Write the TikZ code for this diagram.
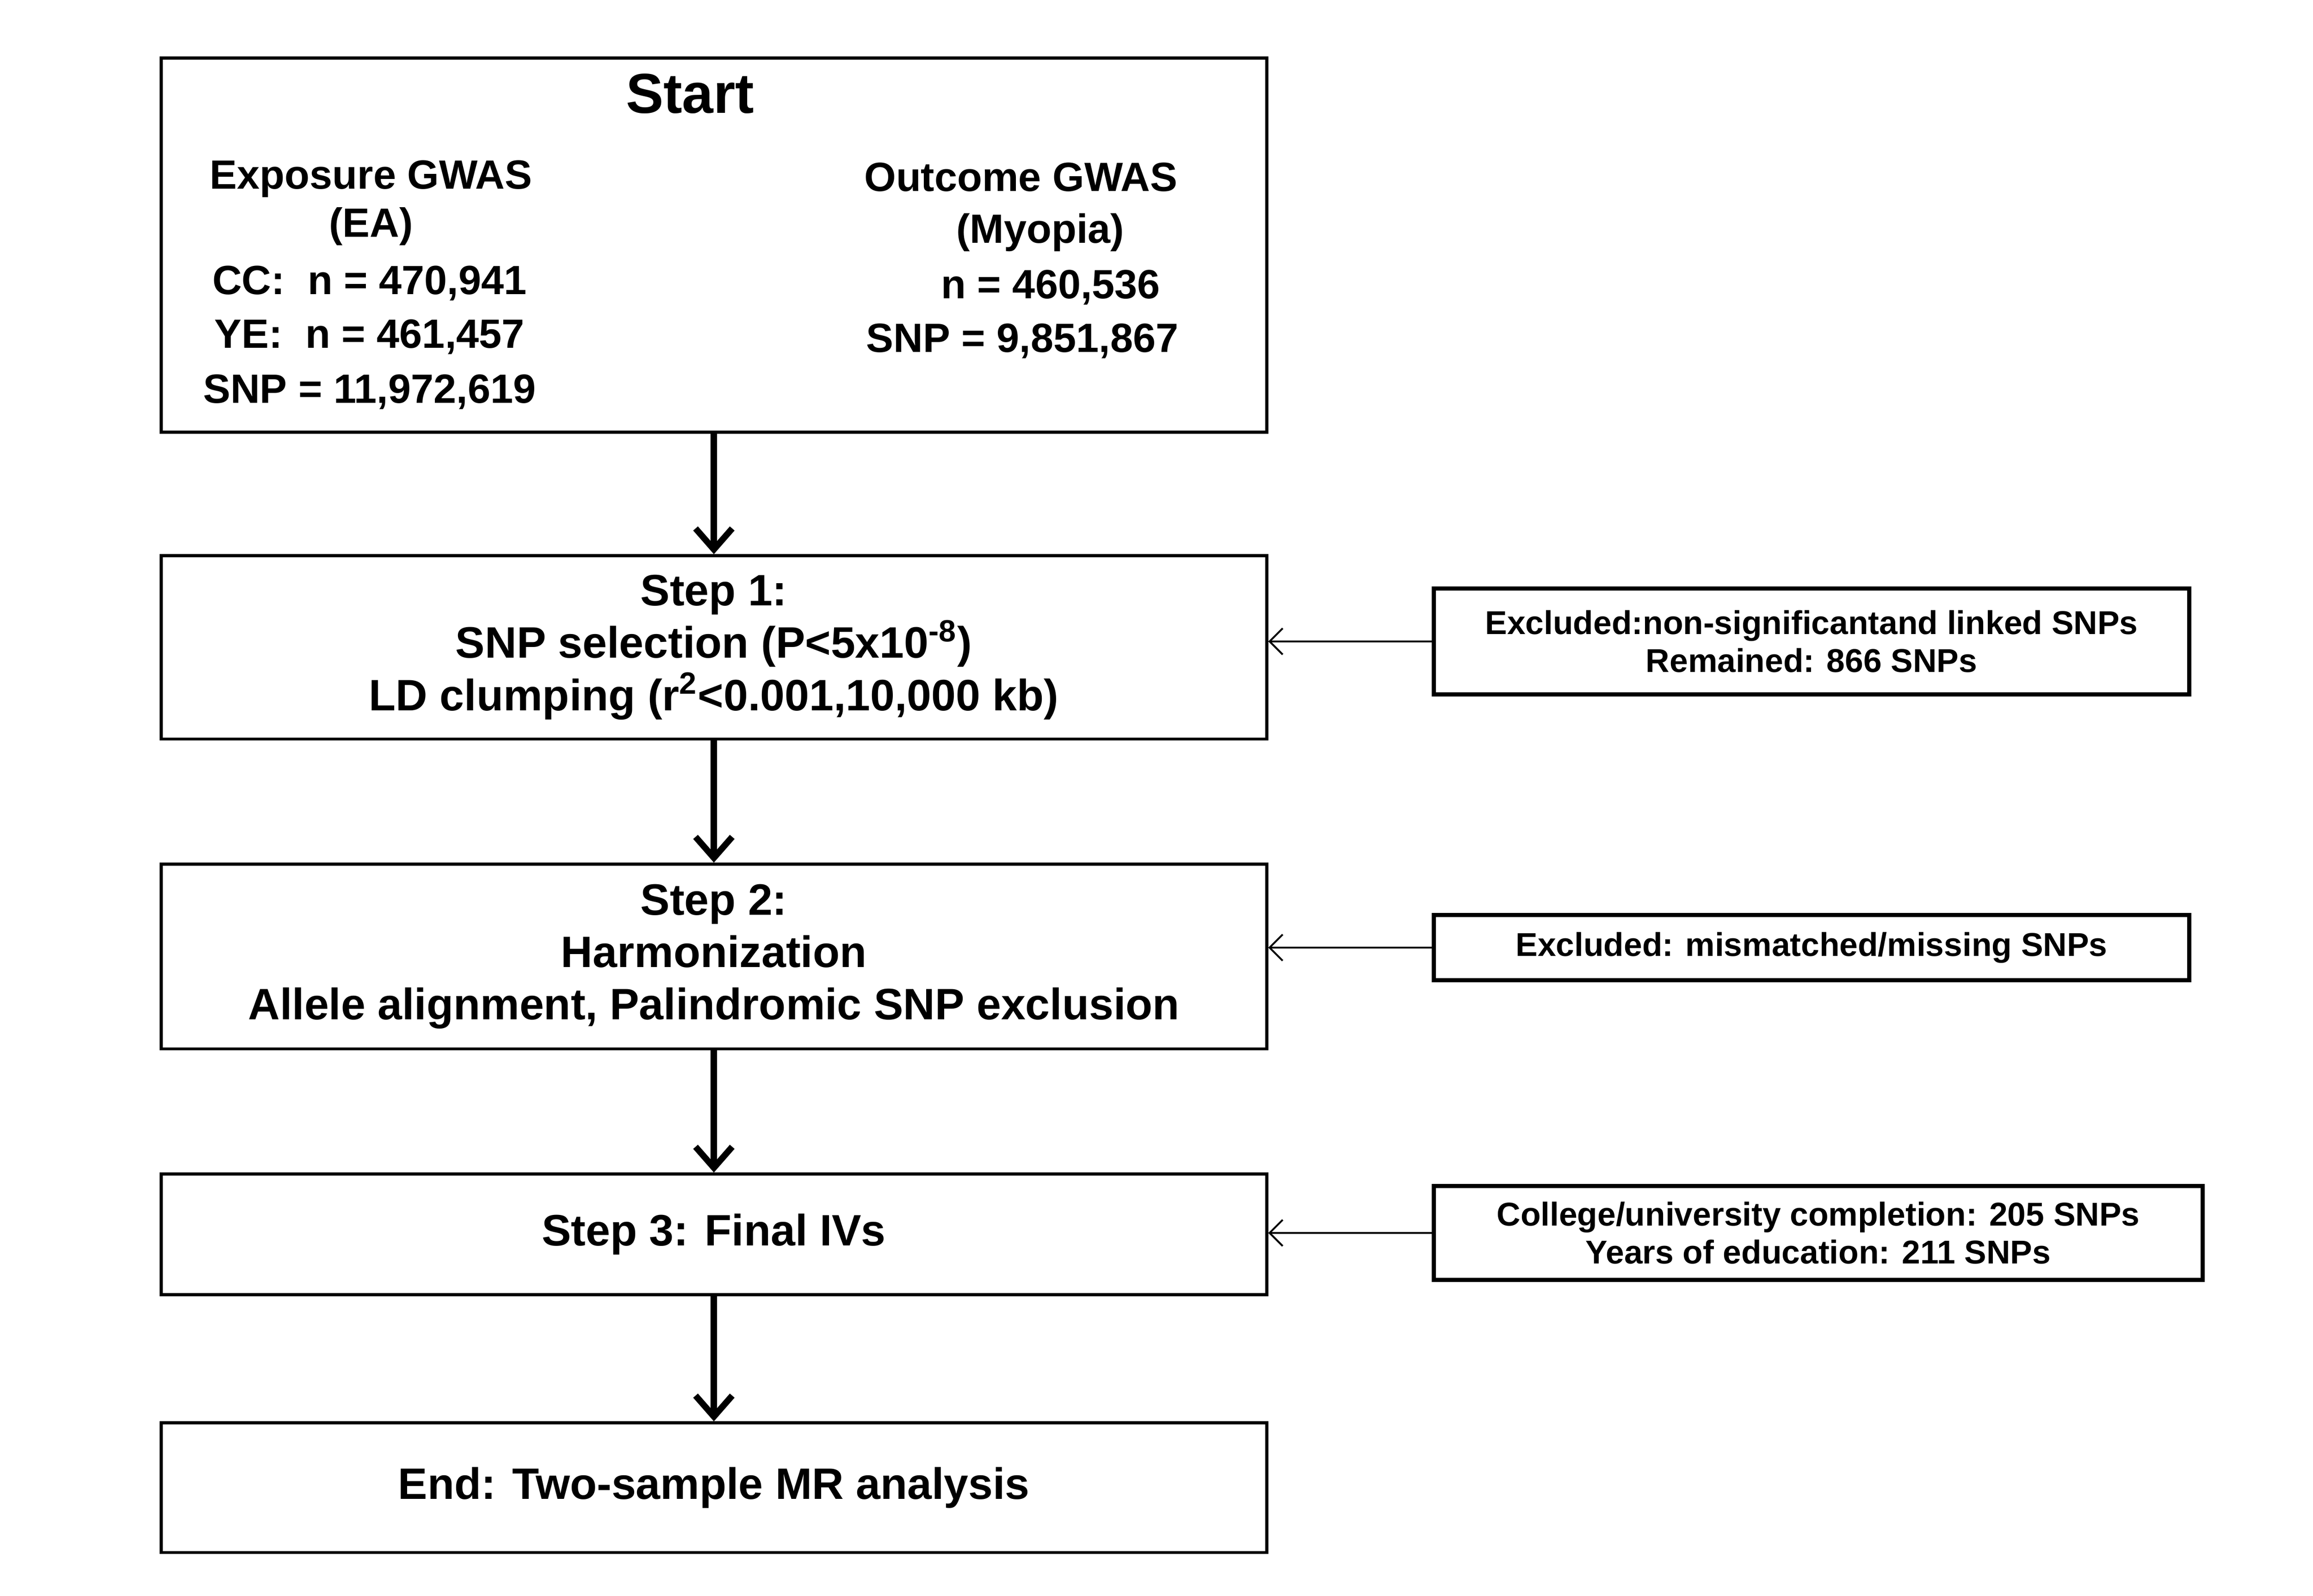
\documentclass[tikz,border=0pt]{standalone}
\usepackage{fontspec}
\setmainfont{Liberation Sans}
\usetikzlibrary{arrows.meta}
\begin{document}
\begin{tikzpicture}[x=0.02cm,y=-0.02cm,font=\bfseries,
  mainbox/.style={draw,line width=1.2pt,minimum width=14.84cm,align=center,inner sep=0pt},
  steptext/.style={font=\bfseries\fontsize{16.8}{20}\selectfont},
  sidebox/.style={draw,line width=1.6pt,align=center,inner sep=0pt,font=\bfseries\fontsize{12.6}{14.5}\selectfont},
  flow/.style={line width=2.4pt,-{Straight Barb[length=8pt,width=14pt,line width=2.4pt]}},
  side/.style={line width=0.7pt,-{Straight Barb[length=5pt,width=10pt]}}]
  \useasboundingbox (0,0) rectangle (1552,1071);
  % main column
  \node[mainbox,minimum height=5.02cm] (start) at (479,164.5) {};
  \node[mainbox,minimum height=2.46cm,steptext] (s1) at (479,434.5)
    {Step 1:\\SNP selection (P<5x10\textsuperscript{-8})\\LD clumping (r\textsuperscript{2}<0.001,10,000 kb)};
  \node[mainbox,minimum height=2.48cm,steptext] (s2) at (479,642)
    {Step 2:\\Harmonization\\Allele alignment, Palindromic SNP exclusion};
  \node[mainbox,minimum height=1.62cm,steptext] (s3) at (479,828.5) {Step 3: Final IVs};
  \node[mainbox,minimum height=1.74cm,steptext] (end) at (479,998.5) {End: Two-sample MR analysis};
  % start box texts
  \node[font=\bfseries\fontsize{21.5}{24}\selectfont] (st) at (463,63) {Start};
  \begin{scope}[every node/.style={font=\bfseries\fontsize{15.6}{19}\selectfont}]
    \node (expo) at (249,120) {Exposure GWAS};
    \node (ea) at (249,152) {(EA)};
    \node (cc) at (248,190) {CC:\ \ n = 470,941};
    \node (ye) at (248,226) {YE:\ \ n = 461,457};
    \node (snpa) at (248,263) {SNP = 11,972,619};
    \node (outc) at (685,119) {Outcome GWAS};
    \node (myo) at (698,156) {(Myopia)};
    \node (nout) at (705,193) {n = 460,536};
    \node (snpb) at (686,229) {SNP = 9,851,867};
  \end{scope}
  % side boxes
  \node[sidebox,minimum width=10.14cm,minimum height=1.42cm] (x1) at (1215.5,430.5)
    {Excluded:non-significantand linked SNPs\\Remained: 866 SNPs};
  \node[sidebox,minimum width=10.14cm,minimum height=0.88cm] (x2) at (1215.5,636)
    {Excluded: mismatched/missing SNPs};
  \node[sidebox,minimum width=10.32cm,minimum height=1.26cm] (x3) at (1220,827.5)
    {College/university completion: 205 SNPs\\Years of education: 211 SNPs};
  % connectors
  \draw[flow] (start.south) -- (s1.north);
  \draw[flow] (s1.south) -- (s2.north);
  \draw[flow] (s2.south) -- (s3.north);
  \draw[flow] (s3.south) -- (end.north);
  \draw[side] (x1.west) -- (s1.east |- x1.west);
  \draw[side] (x2.west) -- (s2.east |- x2.west);
  \draw[side] (x3.west) -- (s3.east |- x3.west);
\end{tikzpicture}
\end{document}
